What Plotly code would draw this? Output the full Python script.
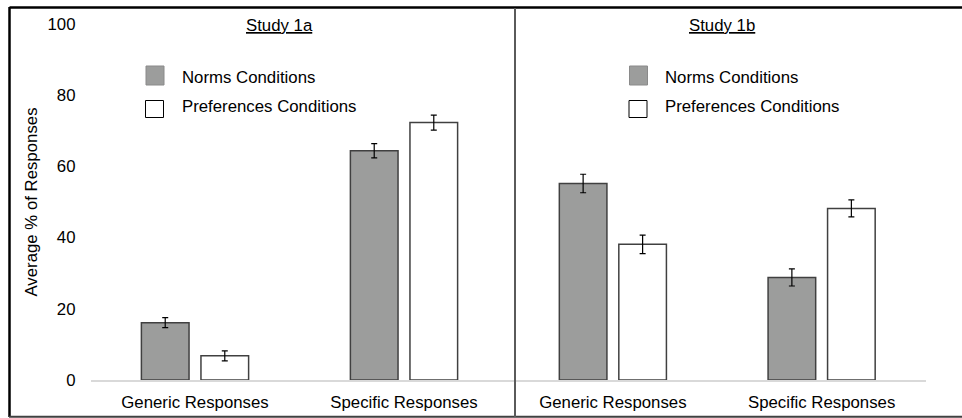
import plotly.graph_objects as go

# ---- data ----
categories = ["Generic Responses", "Specific Responses"]
study_1a_norms = [16.1, 64.4]
study_1a_norms_err = [1.4, 2.0]
study_1a_prefs = [6.8, 72.3]
study_1a_prefs_err = [1.4, 2.1]
study_1b_norms = [55.2, 28.8]
study_1b_norms_err = [2.6, 2.4]
study_1b_prefs = [38.1, 48.2]
study_1b_prefs_err = [2.6, 2.4]
y_ticks = [0, 20, 40, 60, 80, 100]
series_names = ["Norms Conditions", "Preferences Conditions"]
panel_titles = ["Study 1a", "Study 1b"]

W, H = 962, 418
FONT = "Liberation Sans, Arial, sans-serif"
FS = 16.8
GRAY = "#9c9d9c"
EDGE = "#404040"


def px(x):
    return x / W


def py(y):
    return 1 - y / H


fig = go.Figure()


def add_bars(xa, ya, norms, nerr, prefs, perr):
    fig.add_trace(go.Bar(
        x=categories, y=norms, name=series_names[0], xaxis=xa, yaxis=ya,
        marker=dict(color=GRAY, line=dict(color=EDGE, width=1.5)),
        error_y=dict(type="data", array=nerr, color="#000000", thickness=1.2, width=3),
        showlegend=False))
    fig.add_trace(go.Bar(
        x=categories, y=prefs, name=series_names[1], xaxis=xa, yaxis=ya,
        marker=dict(color="#ffffff", line=dict(color=EDGE, width=1.5)),
        error_y=dict(type="data", array=perr, color="#000000", thickness=1.2, width=3),
        showlegend=False))


add_bars("x", "y", study_1a_norms, study_1a_norms_err, study_1a_prefs, study_1a_prefs_err)
add_bars("x2", "y2", study_1b_norms, study_1b_norms_err, study_1b_prefs, study_1b_prefs_err)

ydom = [py(380), py(24)]
xcommon = dict(showline=True, linecolor="#d9d9d9", linewidth=1.5, showgrid=False, zeroline=False,
               ticks="", tickfont=dict(family=FONT, size=FS, color="#000000"),
               ticklabelstandoff=6, fixedrange=True, automargin=False)

fig.update_layout(
    template="none",
    width=W, height=H,
    margin=dict(l=0, r=0, t=0, b=0, autoexpand=False),
    paper_bgcolor="#ffffff", plot_bgcolor="rgba(0,0,0,0)",
    barmode="group", bargap=0.43, bargroupgap=0.2,
    font=dict(family=FONT, size=FS, color="#000000"),
    showlegend=False,
    xaxis=dict(domain=[px(90.5), px(508.5)], anchor="y", **xcommon),
    xaxis2=dict(domain=[px(508.5), px(926)], anchor="y2", **xcommon),
    yaxis=dict(domain=ydom, range=[0, 100], tickvals=y_ticks, showgrid=False,
               zeroline=False, showline=False, ticks="", ticklabelstandoff=14,
               automargin=False, fixedrange=True,
               tickfont=dict(family=FONT, size=FS, color="#000000"),
               title=dict(text="Average % of Responses", standoff=5,
                          font=dict(family=FONT, size=FS, color="#000000"))),
    yaxis2=dict(domain=ydom, range=[0, 100], anchor="x2", showgrid=False, automargin=False,
                zeroline=False, showline=False, showticklabels=False, ticks="", fixedrange=True),
)

shapes = []
# outer frame
shapes.append(dict(type="line", xref="paper", yref="paper", x0=px(9.5), x1=px(963), y0=py(7.5), y1=py(7.5),
                   line=dict(color="#000000", width=2.5)))
shapes.append(dict(type="line", xref="paper", yref="paper", x0=px(9.5), x1=px(9.5), y0=py(7), y1=py(417),
                   line=dict(color="#000000", width=2.5)))
shapes.append(dict(type="line", xref="paper", yref="paper", x0=px(9), x1=px(963), y0=py(416.8), y1=py(416.8),
                   line=dict(color="#404040", width=2)))
# divider
shapes.append(dict(type="line", xref="paper", yref="paper", x0=px(515), x1=px(515), y0=py(8), y1=py(417),
                   line=dict(color="#5a5a5a", width=2)))

annotations = []
# panel titles
for t, cx in zip(panel_titles, [279, 722]):
    annotations.append(dict(text="<u>" + t + "</u>", xref="paper", yref="paper", x=px(cx), y=py(25),
                            xanchor="center", yanchor="middle", showarrow=False,
                            font=dict(family=FONT, size=FS, color="#000000")))

# legend boxes (one per panel)
for lx in [146, 629.5]:
    shapes.append(dict(type="rect", xref="paper", yref="paper", x0=px(lx), x1=px(lx + 18), y0=py(66), y1=py(85),
                       fillcolor=GRAY, line=dict(color="#8a8a8a", width=1)))
    shapes.append(dict(type="rect", xref="paper", yref="paper", x0=px(lx - 0.5), x1=px(lx + 17.5), y0=py(100.5),
                       y1=py(117.5), fillcolor="#ffffff", line=dict(color="#000000", width=1)))
    for name, yc in zip(series_names, [77, 106.5]):
        annotations.append(dict(text=name, xref="paper", yref="paper", x=px(lx + 33.5), y=py(yc),
                                xanchor="left", yanchor="middle", showarrow=False,
                                font=dict(family=FONT, size=FS, color="#000000")))

fig.update_layout(shapes=shapes, annotations=annotations)

fig.write_html("out.html", config={"displayModeBar": False},
               post_script="document.body.style.margin='0px';")
